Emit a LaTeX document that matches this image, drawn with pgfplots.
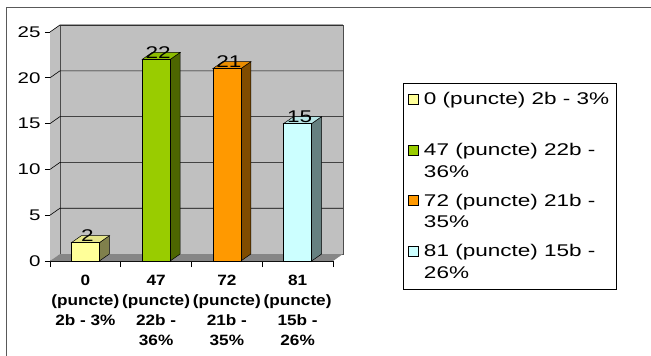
\documentclass[border=0pt]{standalone}
\usepackage{pgfplots}
\pgfplotsset{compat=1.18}
\usepackage{fontspec}
\setmainfont{Liberation Sans}
\newfontfamily\wide[FakeStretch=1.33]{Liberation Sans}
\newfontfamily\narrowb[FakeStretch=1.15]{Liberation Sans}
\definecolor{wall}{HTML}{C0C0C0}
\definecolor{floorc}{HTML}{868686}
\definecolor{yel}{HTML}{FFFF99}
\definecolor{yelS}{HTML}{80804C}
\definecolor{grn}{HTML}{99CC00}
\definecolor{grnS}{HTML}{4D6600}
\definecolor{org}{HTML}{FF9900}
\definecolor{orgS}{HTML}{804C00}
\definecolor{cya}{HTML}{CCFFFF}
\definecolor{cyaS}{HTML}{668080}
\begin{document}
\begin{tikzpicture}
\useasboundingbox (-50bp,-95bp) rectangle (601bp,261bp);
\draw[gray!70!black, line width=1bp] (-43bp,-110bp) -- (-43bp,253bp) -- (620bp,253bp);
\begin{axis}[
  scale only axis,
  width=283bp, height=229bp,
  xmin=0, xmax=4, ymin=0, ymax=25,
  clip=false,
  axis x line*=bottom, axis y line*=left,
  axis line style={black, line width=0.8bp, -},
  tick align=outside,
  ytick={0,5,10,15,20,25},
  xtick={0.5,1.5,2.5,3.5},
  xticklabels={0\\(puncte)\\2b - 3\%, 47\\(puncte)\\22b -\\36\%, 72\\(puncte)\\21b -\\35\%, 81\\(puncte)\\15b -\\26\%},
  minor xtick={0,1,2,3,4},
  major x tick style={draw=none},
  minor x tick style={black, line width=0.8bp},
  minor tick length=6bp,
  major tick length=5bp,
  y tick style={black, line width=0.8bp},
  /pgf/number format/assume math mode=true,
  yticklabel style={font=\wide\fontsize{15.5}{15.5}\selectfont, xshift=-1bp},
  xticklabel style={font=\narrowb\bfseries\fontsize{15}{20}\selectfont, align=center, anchor=north, yshift=-6bp},
  legend style={at={(1.2473,0.7773)}, anchor=north west, draw=black, line width=0.8bp, fill=white,
    font=\wide\fontsize{17}{22}\selectfont, inner xsep=5bp, inner ysep=7bp,
    row sep=11bp, column sep=3bp, cells={align=left}},
  legend cell align=left,
  legend image code/.code={\draw[#1, line width=0.6bp] (0bp,6bp) rectangle (10bp,16bp);},
  nodes near coords style={font=\wide\fontsize{17}{17}\selectfont, anchor=center, yshift=7bp, xshift=2bp, black},
]
% walls and floor
\addplot[fill=wall, draw=gray!60!black, line width=0.5bp, forget plot] coordinates {(0.141,0.764) (4.141,0.764) (4.141,25.764) (0.141,25.764)} -- cycle;
\addplot[fill=wall, draw=none, forget plot] coordinates {(0,0) (0.141,0.764) (0.141,25.764) (0,25)} -- cycle;
\addplot[fill=floorc, draw=none, forget plot] coordinates {(0,0) (4,0) (4.141,0.764) (0.141,0.764)} -- cycle;
% gridlines
\addplot[black, line width=0.6bp, forget plot] coordinates {(0,5) (0.141,5.764) (4.141,5.764)};
\addplot[black, line width=0.6bp, forget plot] coordinates {(0,10) (0.141,10.764) (4.141,10.764)};
\addplot[black, line width=0.6bp, forget plot] coordinates {(0,15) (0.141,15.764) (4.141,15.764)};
\addplot[black, line width=0.6bp, forget plot] coordinates {(0,20) (0.141,20.764) (4.141,20.764)};
\addplot[black, line width=0.6bp, forget plot] coordinates {(0,25) (0.141,25.764) (4.141,25.764)};
% bar sides and tops
\addplot[fill=yelS, draw=black, line width=0.5bp, forget plot] coordinates {(0.698,0) (0.839,0.764) (0.839,2.764) (0.698,2)} -- cycle;
\addplot[fill=yel!90!black, draw=black, line width=0.5bp, forget plot] coordinates {(0.302,2) (0.698,2) (0.839,2.764) (0.443,2.764)} -- cycle;
\addplot[fill=grnS, draw=black, line width=0.5bp, forget plot] coordinates {(1.698,0) (1.839,0.764) (1.839,22.764) (1.698,22)} -- cycle;
\addplot[fill=grn!92!black, draw=black, line width=0.5bp, forget plot] coordinates {(1.302,22) (1.698,22) (1.839,22.764) (1.443,22.764)} -- cycle;
\addplot[fill=orgS, draw=black, line width=0.5bp, forget plot] coordinates {(2.698,0) (2.839,0.764) (2.839,21.764) (2.698,21)} -- cycle;
\addplot[fill=org!92!black, draw=black, line width=0.5bp, forget plot] coordinates {(2.302,21) (2.698,21) (2.839,21.764) (2.443,21.764)} -- cycle;
\addplot[fill=cyaS, draw=black, line width=0.5bp, forget plot] coordinates {(3.698,0) (3.839,0.764) (3.839,15.764) (3.698,15)} -- cycle;
\addplot[fill=cya!90!black, draw=black, line width=0.5bp, forget plot] coordinates {(3.302,15) (3.698,15) (3.839,15.764) (3.443,15.764)} -- cycle;
% front faces
\addplot[ybar, bar width=0.396, bar shift=0, fill=yel, draw=black, line width=0.5bp, nodes near coords] coordinates {(0.5,2)};
\addplot[ybar, bar width=0.396, bar shift=0, fill=grn, draw=black, line width=0.5bp, nodes near coords] coordinates {(1.5,22)};
\addplot[ybar, bar width=0.396, bar shift=0, fill=org, draw=black, line width=0.5bp, nodes near coords] coordinates {(2.5,21)};
\addplot[ybar, bar width=0.396, bar shift=0, fill=cya, draw=black, line width=0.5bp, nodes near coords] coordinates {(3.5,15)};
\legend{0 (puncte) 2b - 3\%\hspace{6bp}\\\strut, 47 (puncte) 22b -\\36\%, 72 (puncte) 21b -\\35\%, 81 (puncte) 15b -\\26\%}
\end{axis}
\end{tikzpicture}
\end{document}
